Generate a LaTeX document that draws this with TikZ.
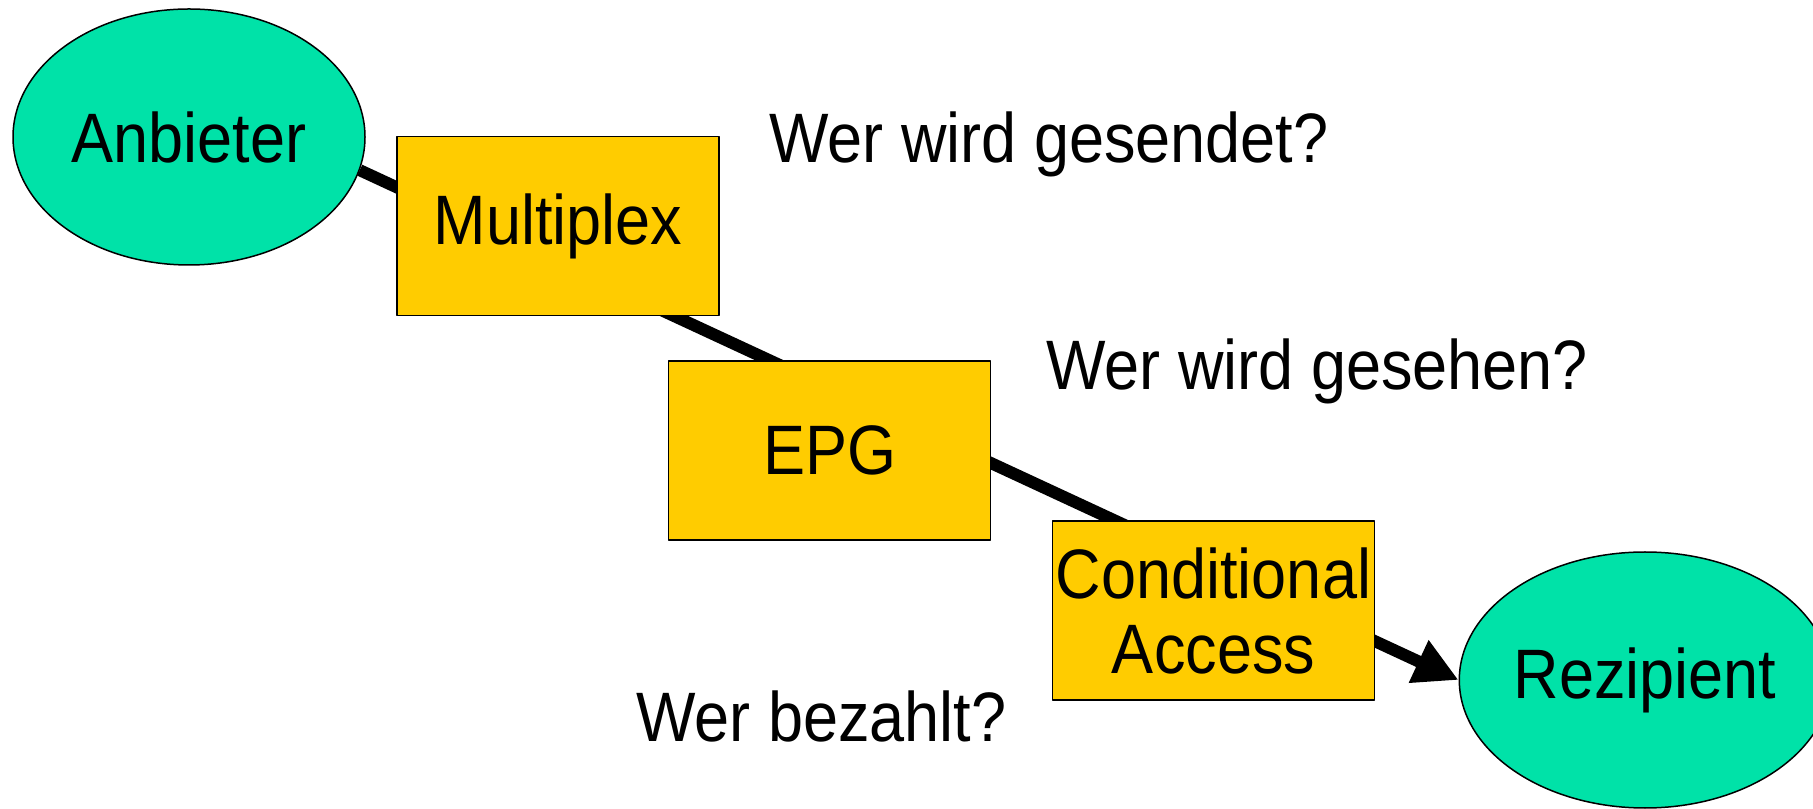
\documentclass[tikz,border=0pt]{standalone}
\usepackage{fontspec}
\setmainfont[FakeStretch=0.9]{Liberation Sans}
\usepackage{tikz}
\usetikzlibrary{positioning,shapes.geometric,arrows.meta}
\definecolor{partygreen}{RGB}{0,226,168}
\definecolor{stageyellow}{RGB}{255,204,0}
\pgfdeclarelayer{background}
\pgfsetlayers{background,main}

\begin{document}
\begin{tikzpicture}[>={Triangle[length=22pt,width=22pt]},line join=bevel,
  party/.style={ellipse,draw,line width=0.75pt,fill=partygreen,minimum width=176pt,minimum height=128pt,inner sep=0pt},
  stage/.style={rectangle,draw,line width=0.75pt,fill=stageyellow,minimum width=161pt,minimum height=89.5pt,inner sep=0pt,align=center},
  question/.style={anchor=base west,inner sep=0pt},
  every node/.style={font=\fontsize{35}{37.5}\selectfont},
]
\useasboundingbox (0pt,0pt) rectangle (906.5pt,404pt);
%%
\node (Anbieter) at (94.5pt,335.5pt) [party] {Anbieter};
  \node (Multiplex) at (279pt,291pt) [stage] {Multiplex};
  \node (EPG) at (414.8pt,178.75pt) [stage] {EPG};
  \node (ConditionalAccess) at (606.75pt,98.75pt) [stage] {Conditional\\Access};
  \node (Rezipient) at (822.5pt,64pt) [party] {Rezipient};
  \node (WerGesendet) at (384.5pt,322.5pt) [question] {Wer wird gesendet?};
  \node (WerGesehen) at (523pt,209pt) [question] {Wer wird gesehen?};
  \node (WerBezahlt) at (318pt,33.5pt) [question] {Wer bezahlt?};
  \begin{pgfonlayer}{background}
  \draw [black,line width=6pt,->] (Anbieter.-11) -- (Rezipient.west);
  \end{pgfonlayer}
%
\end{tikzpicture}
\end{document}
